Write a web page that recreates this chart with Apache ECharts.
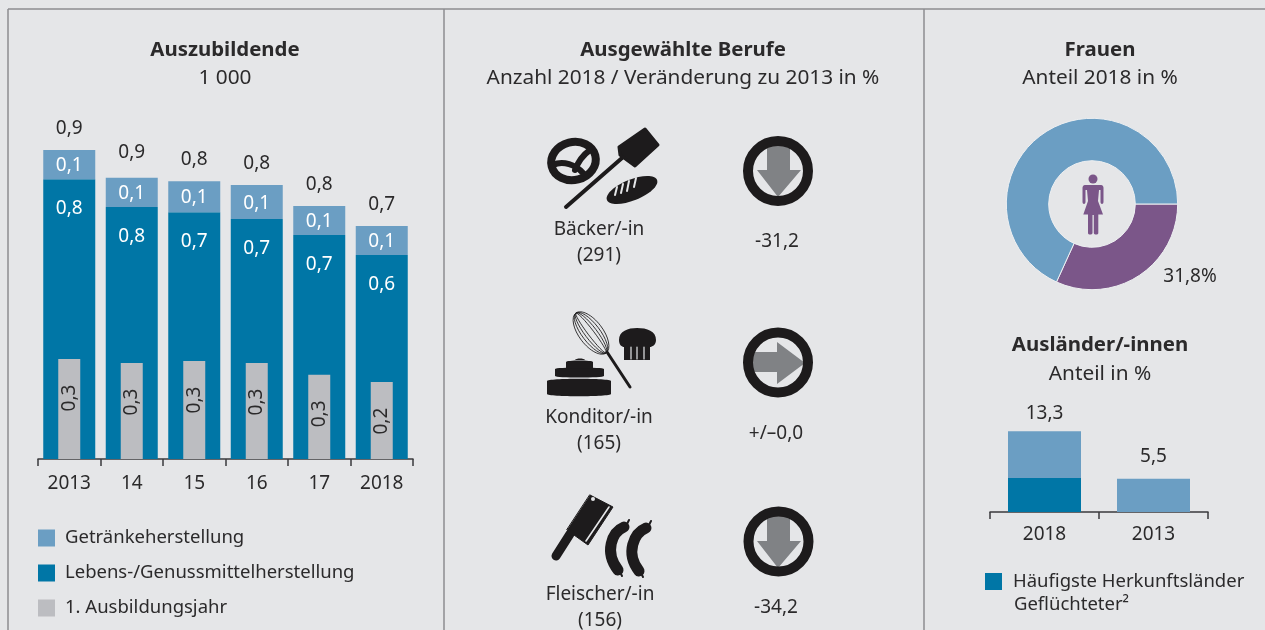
<!DOCTYPE html>
<html>
<head>
<meta charset="utf-8">
<title>Auszubildende</title>
<script src="https://cdn.jsdelivr.net/npm/echarts@6/dist/echarts.min.js"></script>
<style>
  html, body { margin: 0; padding: 0; background: #e5e6e8; }
  #chart { width: 1265px; height: 630px; }
</style>
</head>
<body>
<div id="chart"></div>
<script>
  // Auszubildende in 1 000
  var jahre = ['2013', '14', '15', '16', '17', '2018'];
  var getraenke = [0.088, 0.088, 0.094, 0.103, 0.088, 0.088];
  var lebensmittel = [0.848, 0.764, 0.748, 0.727, 0.679, 0.618];
  var ersteJahr = [0.303, 0.291, 0.297, 0.291, 0.255, 0.233];
  var gesamt = [0.936, 0.852, 0.842, 0.830, 0.767, 0.706];

  // Ausgewaehlte Berufe
  var berufe = ['Bäcker/-in', 'Konditor/-in', 'Fleischer/-in'];
  var anzahl = ['(291)', '(165)', '(156)'];
  var veraenderung = ['-31,2', '+/–0,0', '-34,2'];

  // Frauen
  var frauenAnteil = [31.8, 68.2];

  // Auslaender/-innen
  var auslJahre = ['2018', '2013'];
  var auslHerkunft = [5.6, 0];
  var auslRest = [7.7, 5.5];
  var auslGesamt = [13.3, 5.5];

  var FONT = '"Noto Sans"';
  var TEXT = '#2b2a2b';
  var HELL = '#6b9ec3';
  var DUNKEL = '#0076a6';
  var GRAU = '#bcbdc1';
  var LILA = '#7b5689';
  var BG = '#e5e6e8';
  var ICON = '#1d1b1c';
  var PFEIL = '#808285';

  function komma(v, n) {
    return v.toFixed(n).replace('.', ',');
  }

  function title(text, x, y, bold) {
    return {
      text: text,
      left: x,
      top: y,
      textAlign: 'center',
      padding: 0,
      textStyle: { fontFamily: FONT, fontSize: bold ? 20.4 : 20.8, fontWeight: bold ? 700 : 400, color: TEXT, lineHeight: 26 }
    };
  }

  function txt(text, x, y, size) {
    return {
      type: 'text', x: x, y: y + 2, silent: true,
      style: { text: text, fill: TEXT, font: (size || 19) + 'px ' + FONT, align: 'center', verticalAlign: 'middle' }
    };
  }

  function line(x1, y1, x2, y2) {
    return { type: 'line', silent: true, shape: { x1: x1, y1: y1, x2: x2, y2: y2 }, style: { stroke: '#8c8d90', lineWidth: 1.5 } };
  }

  // Piktogramme direkt auf zrender
  function icon(d, fill, stroke, lw) {
    return echarts.graphic.makePath(d, { style: { fill: fill || 'none', stroke: stroke || 'none', lineWidth: lw || 0, lineCap: 'round', lineJoin: 'round' }, silent: true });
  }

  function pfeilKreis(cx, cy, d) {
    return [icon(d, PFEIL), new echarts.graphic.Circle({ silent: true, shape: { cx: cx, cy: cy, r: 30 }, style: { fill: 'none', stroke: ICON, lineWidth: 10 } })];
  }

  function ellipse(cx, cy, rx, ry, rot, fill, stroke, lw) {
    return new echarts.graphic.Ellipse({
      silent: true, shape: { cx: 0, cy: 0, rx: rx, ry: ry }, x: cx, y: cy, rotation: rot,
      style: { fill: fill || 'none', stroke: stroke || 'none', lineWidth: lw || 0 }
    });
  }

  var chart = echarts.init(document.getElementById('chart'));

  function barLabel(color) {
    return {
      show: true, color: color, fontFamily: FONT, fontSize: 19,
      formatter: function (p) { return komma(p.value, 1); }
    };
  }

  // einzelne Summenlabels sitzen etwas hoeher/tiefer als der Rest
  function mitAbstand(values, extra) {
    return values.map(function (v, i) {
      return extra[i] === undefined ? v : { value: v, label: { distance: extra[i] } };
    });
  }

  var axisLine = { lineStyle: { color: '#3a3a3c', width: 1.5 } };
  var axisTick = { show: true, length: 7, lineStyle: { color: '#3a3a3c', width: 1.5 } };
  var axisLabel = { color: TEXT, fontFamily: FONT, fontSize: 19, margin: 15 };

  var option = {
    backgroundColor: BG,
    animation: false,
    title: [
      title('Auszubildende', 225, 37, true),
      title('1 000', 225, 65),
      title('Ausgewählte Berufe', 683, 37, true),
      title('Anzahl 2018 / Veränderung zu 2013 in %', 683, 65),
      title('Frauen', 1100, 37, true),
      title('Anteil 2018 in %', 1100, 65),
      title('Ausländer/-innen', 1100, 332, true),
      title('Anteil in %', 1100, 361)
    ],
    legend: [
      {
        left: 38, top: 525, orient: 'vertical', itemWidth: 17, itemHeight: 17, itemGap: 9, icon: 'rect',
        data: ['Getränkeherstellung', 'Lebens-/Genussmittelherstellung', '1. Ausbildungsjahr'],
        textStyle: { fontFamily: FONT, fontSize: 18.5, color: TEXT, lineHeight: 26, padding: [0, 0, 0, 5] },
        selectedMode: false, padding: 0
      },
      {
        left: 985, top: 567, itemWidth: 17, itemHeight: 17, icon: 'rect',
        data: ['Häufigste Herkunftsländer'],
        textStyle: { fontFamily: FONT, fontSize: 18.5, color: TEXT, lineHeight: 26, padding: [3, 0, 0, 6] },
        selectedMode: false, padding: 0
      }
    ],
    grid: [
      { left: 38, top: 129, width: 375, height: 330 },
      { left: 990, top: 421, width: 218, height: 91 }
    ],
    xAxis: [
      { type: 'category', gridIndex: 0, data: jahre, axisLine: axisLine, axisTick: axisTick, axisLabel: axisLabel },
      { type: 'category', gridIndex: 0, data: jahre, show: false },
      { type: 'category', gridIndex: 0, data: jahre, show: false },
      { type: 'category', gridIndex: 1, data: auslJahre, axisLine: axisLine, axisTick: axisTick, axisLabel: Object.assign({}, axisLabel, { margin: 13 }) },
      { type: 'category', gridIndex: 1, data: auslJahre, show: false }
    ],
    yAxis: [
      { type: 'value', gridIndex: 0, min: 0, max: 1, show: false },
      { type: 'value', gridIndex: 1, min: 0, max: 15, show: false }
    ],
    series: [
      {
        name: 'Lebens-/Genussmittelherstellung', type: 'bar', stack: 'a', barWidth: 52, data: lebensmittel,
        itemStyle: { color: DUNKEL },
        label: Object.assign(barLabel('#fff'), { position: 'insideTop', distance: 20 })
      },
      {
        name: 'Getränkeherstellung', type: 'bar', stack: 'a', barWidth: 52, data: getraenke,
        itemStyle: { color: HELL },
        label: Object.assign(barLabel('#fff'), { position: 'inside', offset: [0, 1] })
      },
      {
        name: '1. Ausbildungsjahr', type: 'bar', xAxisIndex: 1, barWidth: 22, z: 3, data: ersteJahr,
        itemStyle: { color: GRAU },
        label: Object.assign(barLabel(TEXT), { position: 'insideTop', distance: 39, rotate: 90, align: 'center', verticalAlign: 'middle' })
      },
      {
        name: 'gesamt', type: 'bar', xAxisIndex: 2, barWidth: 52, z: 1, data: mitAbstand(gesamt, { 1: 16 }),
        itemStyle: { color: 'transparent' },
        label: Object.assign(barLabel(TEXT), { position: 'top', distance: 12 })
      },
      {
        type: 'pie', center: [1092, 204], radius: [43.3, 85.7], startAngle: 0, clockwise: true, silent: true,
        data: [
          { value: frauenAnteil[0], name: 'Frauen', itemStyle: { color: LILA } },
          { value: frauenAnteil[1], name: 'Männer', itemStyle: { color: HELL }, label: { show: false }, labelLine: { show: false } }
        ],
        itemStyle: { borderColor: '#eef0f2', borderWidth: 1 },
        label: {
          show: true, position: 'outside', color: TEXT, fontFamily: FONT, fontSize: 19,
          formatter: function (p) { return komma(p.value, 1) + '%'; }
        },
        labelLine: { show: false },
        labelLayout: function (p) {
          return p.dataIndex === 0 ? { x: 1190, y: 277, align: 'center', verticalAlign: 'middle' } : {};
        }
      },
      {
        name: 'Häufigste Herkunftsländer', type: 'bar', stack: 'b', xAxisIndex: 3, yAxisIndex: 1, barWidth: 73, data: auslHerkunft,
        itemStyle: { color: DUNKEL }
      },
      {
        name: 'übrige', type: 'bar', stack: 'b', xAxisIndex: 3, yAxisIndex: 1, barWidth: 73, data: auslRest,
        itemStyle: { color: HELL }
      },
      {
        name: 'ausl gesamt', type: 'bar', xAxisIndex: 4, yAxisIndex: 1, barWidth: 73, z: 1, data: mitAbstand(auslGesamt, { 0: 8, 1: 13 }),
        itemStyle: { color: 'transparent' },
        label: {
          show: true, position: 'top', distance: 10, color: TEXT, fontFamily: FONT, fontSize: 19,
          formatter: function (p) { return komma(p.value, 1); }
        }
      }
    ]
  };

  chart.setOption(option);

  // Rahmen und Berufe
  var graphics = [
    line(8, 9, 1265, 9), line(8, 9, 8, 630), line(444, 9, 444, 630), line(924, 9, 924, 630),
    txt('Geflüchteter²', 1071.5, 603, 18.5),
    txt(berufe[0], 599, 228), txt(anzahl[0], 599, 254),
    txt(berufe[1], 599, 416), txt(anzahl[1], 599, 442),
    txt(berufe[2], 600, 593), txt(anzahl[2], 600, 619),
    txt(veraenderung[0], 777, 240), txt(veraenderung[1], 776, 432), txt(veraenderung[2], 776, 606)
  ];
  chart.setOption({ graphic: graphics });

  var zr = chart.getZr();
  function add(e) { zr.add(e); }

  // Pfeile
  pfeilKreis(778, 171, 'M767 140 H790 V170 H801 L778 197 L757 170 H767 Z').forEach(add);
  pfeilKreis(778, 362.5, 'M750 352 H777 V342 L805 363 L777 384 V372 H750 Z').forEach(add);
  pfeilKreis(778.5, 541.5, 'M767 510 H790 V541 H801 L778 568 L757 541 H767 Z').forEach(add);

  // Brezel
  add(ellipse(573.5, 161, 22.5, 19, 0.25, 'none', ICON, 8));
  add(icon('M553 165 C563 160 576 165 583 173', 'none', ICON, 6));
  add(icon('M590 150 C583 155 578 162 575 170', 'none', ICON, 6));
  // Brotschieber
  add(icon('M566 207 L622 158', 'none', ICON, 4));
  add(icon('M619 147 L645 129 L658 145 L635 166 L620 155 Z', ICON, ICON, 3));
  // Baguette
  add(ellipse(632, 190, 27, 10.5, 0.38, ICON));
  add(icon('M617 187 L615 195 M623 184 L621 193 M629 181 L627 191 M636 178 L634 187', 'none', BG, 2));

  // Schneebesen
  add(icon('M607 352 L630 387', 'none', ICON, 3));
  [12, 9, 6, 3].forEach(function (w) {
    add(ellipse(591, 333, w, 25, 0.65, 'none', ICON, 0.8));
  });
  // Muffin
  add(icon('M619 340 C619 331 628 328 637 328 C647 328 656 331 656 340 C656 345 652 347 650 347 L650 360 L624 360 L624 347 C622 347 619 345 619 340 Z', ICON));
  add(icon('M631 347 V359 M637 347 V359 M644 347 V359', 'none', BG, 1.2));
  // Torte
  add(icon('M547 381 C547 378 611 378 611 381 V394 C611 397 547 397 547 394 Z', ICON));
  add(icon('M555 369 C555 367 604 367 604 369 V376 C604 378 555 378 555 376 Z', ICON));
  add(icon('M566 362 C566 360 593 360 593 362 V368 C593 369 566 369 566 368 Z', ICON));
  add(icon('M575 360 C576 358 584 358 585 360 Z', ICON));

  // Hackbeil
  add(icon('M590 495 L613 507 L588 545 L567 530 Z', ICON, ICON, 1));
  add(icon('M609 507 L586 541', 'none', BG, 1.6));
  add(new echarts.graphic.Circle({ silent: true, shape: { cx: 593, cy: 499, r: 2 }, style: { fill: BG } }));
  add(icon('M570 534 L556 556', 'none', ICON, 9));
  // Wuerste
  add(icon('M624 527 C612 532 604 552 618 570', 'none', ICON, 11));
  add(icon('M646 528 C634 533 625 553 639 571', 'none', ICON, 11));
  add(icon('M627 524 L629 520 M621 574 L622 576 M649 525 L651 521 M642 575 L643 577', 'none', ICON, 2));

  // Frauen-Symbol
  add(new echarts.graphic.Circle({ silent: true, shape: { cx: 1093, cy: 179, r: 4.5 }, style: { fill: LILA } }));
  add(icon('M1085 185 H1101 C1103 185 1103.5 187 1103.5 188 V202 C1103.5 204.5 1100.5 204.5 1100.5 202 V190 H1099 L1098 201 L1103 214.5 H1098.3 V233 C1098.3 235 1094 235 1093.8 233 V215 H1092.5 V233 C1092.3 235 1088 235 1088 233 V214.5 H1083.3 L1088 201 L1087 190 H1085.5 V202 C1085.5 204.5 1082.5 204.5 1082.5 202 V188 C1082.5 187 1083 185 1085 185 Z', LILA));
</script>
</body>
</html>
